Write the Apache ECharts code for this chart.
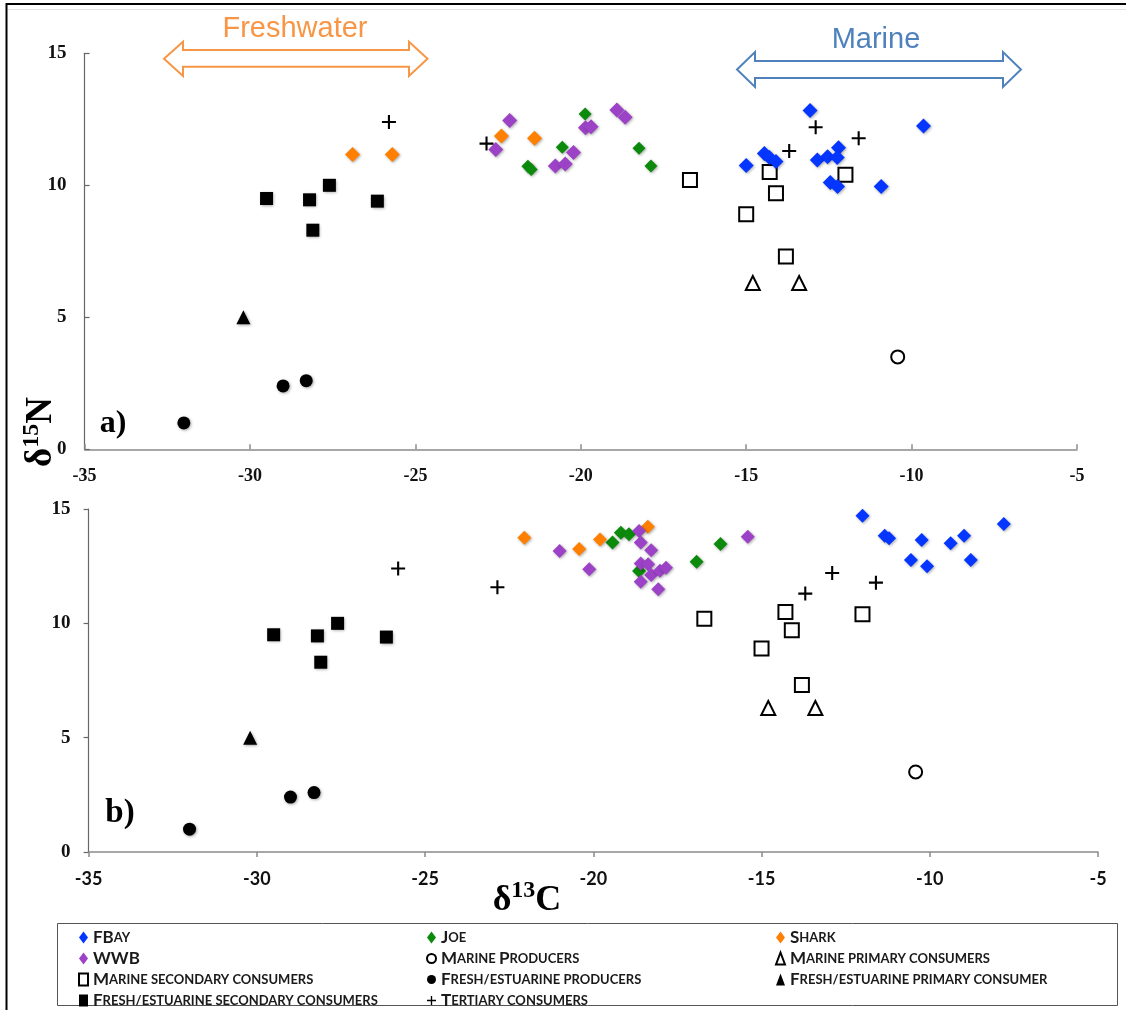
<!DOCTYPE html>
<html>
<head>
<meta charset="utf-8">
<script src="https://cdn.jsdelivr.net/npm/echarts@6/dist/echarts.min.js"></script>
<style>
html,body{margin:0;padding:0;background:#fff;}
#chart{width:1126px;height:1010px;}
</style>
</head>
<body>
<div id="chart"></div>
<script>
// ---------- data (δ13C, δ15N) ----------
// shared (same in both panels)
const freshProducers   = [[-32.0,1.0],[-29.0,2.4],[-28.3,2.6]];
const freshPrimary     = [[-30.2,5.0]];
const freshSecondary   = [[-29.5,9.5],[-28.2,9.45],[-27.6,10.0],[-28.1,8.3],[-26.15,9.4]];
const tertiary         = [[-25.8,12.4],[-22.85,11.58],[-13.7,11.3],[-12.9,12.2],[-11.6,11.78]];
const marineProducers  = [[-10.42,3.5]];
const marinePrimary    = [[-14.8,6.3],[-13.4,6.3]];
const marineSecondary  = [[-16.7,10.2],[-14.29,10.5],[-14.1,9.7],[-15.0,8.9],[-13.8,7.3],[-12.0,10.4]];

// panel a)
const fbayA  = [[-15.0,10.75],[-14.45,11.2],[-14.3,11.05],[-14.1,10.9],[-13.07,12.83],[-12.85,10.96],[-12.54,11.08],[-12.21,11.42],[-12.25,11.05],[-12.46,10.11],[-12.24,9.95],[-10.92,9.95],[-9.64,12.25]];
const joeA   = [[-21.6,10.72],[-21.5,10.6],[-20.56,11.44],[-19.87,12.7],[-18.24,11.4],[-17.88,10.73]];
const sharkA = [[-26.9,11.17],[-25.7,11.17],[-22.4,11.87],[-21.4,11.78]];
const wwbA   = [[-22.57,11.36],[-22.15,12.45],[-20.77,10.73],[-20.47,10.81],[-20.22,11.24],[-19.86,12.18],[-19.69,12.22],[-18.91,12.85],[-18.66,12.58]];

// panel b)
const fbayB  = [[-12.0,14.71],[-11.34,13.83],[-11.21,13.72],[-10.24,13.64],[-10.56,12.77],[-10.08,12.5],[-9.38,13.5],[-8.98,13.83],[-8.78,12.77],[-7.8,14.34]];
const joeB   = [[-19.43,13.54],[-19.18,13.96],[-18.94,13.9],[-18.64,12.29],[-16.93,12.69],[-16.22,13.47]];
const sharkB = [[-22.05,13.74],[-20.42,13.25],[-19.8,13.67],[-18.38,14.22]];
const wwbB   = [[-21.0,13.16],[-20.12,12.37],[-18.64,14.04],[-18.59,13.54],[-18.28,13.2],[-18.59,12.62],[-18.37,12.58],[-18.28,12.11],[-18.02,12.3],[-17.84,12.43],[-18.59,11.82],[-18.07,11.49],[-15.41,13.79]];

const xMin = -35, xMax = -5, xStep = 5;
const yMin = 0, yMax = 15, yStep = 5;

const legendCol1 = ['FBay','WWB','Marine secondary consumers','Fresh/estuarine secondary consumers'];
const legendCol2 = ['Joe','Marine Producers','Fresh/estuarine producers','Tertiary consumers'];
const legendCol3 = ['Shark','Marine primary consumers','Fresh/estuarine primary consumer'];

// ---------- styles ----------
const PLUS = 'path://M8.5,0h3v8.5h8.5v3h-8.5v8.5h-3v-8.5h-8.5v-3h8.5z';
const shadow = {shadowBlur:3, shadowOffsetX:1, shadowOffsetY:1, shadowColor:'rgba(0,0,0,0.35)'};
const filled = c => Object.assign({color:c, opacity:1}, shadow);
const open = {color:'#fff', borderColor:'#000', borderWidth:2, opacity:1};

const COLORS = {FBay:'#0536FF', Joe:'#0B8A0B', Shark:'#FF7F00', WWB:'#9C42C6'};

const series = [];
function add(name, data, idx, symbol, size, itemStyle, z){
  series.push({
    name, type:'scatter', xAxisIndex:idx, yAxisIndex:idx, data,
    symbol, symbolSize:size, itemStyle, z: z||2,
    emphasis:{disabled:true}
  });
}
[0,1].forEach(i=>{
  add('Fresh/estuarine producers', freshProducers, i, 'circle', 13, filled('#000'));
  add('Fresh/estuarine primary consumer', freshPrimary, i, 'triangle', 14, filled('#000'));
  add('Fresh/estuarine secondary consumers', freshSecondary, i, 'rect', 13, filled('#000'));
  add('Marine Producers', marineProducers, i, 'circle', 13, open);
  add('Marine primary consumers', marinePrimary, i, 'triangle', 14, open);
  add('Marine secondary consumers', marineSecondary, i, 'rect', 14, open);
});
add('Joe', joeA, 0, 'diamond', 13, filled(COLORS.Joe), 3);
add('Shark', sharkA, 0, 'diamond', 15, filled(COLORS.Shark), 3);
add('WWB', wwbA, 0, 'diamond', 15, filled(COLORS.WWB), 3);
add('FBay', fbayA, 0, 'diamond', 15, filled(COLORS.FBay), 3);
add('Joe', joeB, 1, 'diamond', 14, filled(COLORS.Joe), 3);
add('Shark', sharkB, 1, 'diamond', 14, filled(COLORS.Shark), 3);
add('WWB', wwbB, 1, 'diamond', 14, filled(COLORS.WWB), 3);
add('FBay', fbayB, 1, 'diamond', 14, filled(COLORS.FBay), 3);
[0,1].forEach(i=>{
  add('Tertiary consumers', tertiary, i, PLUS, 14, {color:'#000', opacity:1}, 4);
});

// ---------- axes ----------
function xAx(i, font, inside){
  return {
    gridIndex:i, type:'value', min:xMin, max:xMax, interval:xStep,
    axisLine:{show:true, onZero:false, lineStyle:{color:'#8a8a8a', width:1.5}},
    axisTick:{show:true, inside, length:5, lineStyle:{color:'#8a8a8a', width:1.5}},
    splitLine:{show:false},
    axisLabel:{margin:18, fontFamily:font, fontWeight:'bold', fontSize:18, color:'#111'}
  };
}
function yAx(i, inside){
  return {
    gridIndex:i, type:'value', min:yMin, max:yMax, interval:yStep,
    axisLine:{show:true, onZero:false, lineStyle:{color:'#666', width:1.2}},
    axisTick:{show:true, inside, length:5, lineStyle:{color:'#666', width:1.2}},
    splitLine:{show:false},
    axisLabel:{margin:18, fontFamily:'Liberation Serif', fontWeight:'bold', fontSize:19, color:'#111'}
  };
}

// ---------- legend ----------
function smallCaps(name){
  let out = '';
  const re = /([A-Z]+)|([^A-Z]+)/g; let m;
  while((m = re.exec(name))){
    if(m[1]) out += '{b|' + m[1] + '}';
    else out += '{s|' + m[2].toUpperCase() + '}';
  }
  return out;
}
const legendText = {
  color:'#1a1a1a',
  rich:{
    b:{fontFamily:'Lato', fontWeight:'bold', fontSize:17, lineHeight:16, color:'#1a1a1a'},
    s:{fontFamily:'Lato', fontWeight:'bold', fontSize:13, lineHeight:16, color:'#1a1a1a'}
  }
};
function legendItem(n){
  const isDiamond = ['FBay','Joe','Shark','WWB'].includes(n);
  return isDiamond ? {name:n, icon:'diamond'} : {name:n};
}
function lg(names, left){
  return {
    data:names.map(legendItem), orient:'vertical', left, top:929,
    itemGap:4, itemWidth:9, itemHeight:12, padding:0,
    selectedMode:false, formatter:smallCaps, textStyle:legendText
  };
}

// ---------- annotations ----------
function arrow(x1, x2, xh1, xh2, yTop, ySh1, ySh2, yBot, color){
  const yc = (yTop + yBot)/2;
  return {
    type:'polygon', z:10,
    shape:{points:[[x1,yc],[xh1,yTop],[xh1,ySh1],[xh2,ySh1],[xh2,yTop],[x2,yc],[xh2,yBot],[xh2,ySh2],[xh1,ySh2],[xh1,yBot]]},
    style:{fill:'#fff', stroke:color, lineWidth:2}
  };
}
const graphic = [
  // frame
  {type:'line', shape:{x1:6.5,y1:3,x2:6.5,y2:1010}, style:{stroke:'#000', lineWidth:2}},
  {type:'line', shape:{x1:6,y1:4,x2:1126,y2:4}, style:{stroke:'#000', lineWidth:2}},
  {type:'line', shape:{x1:8,y1:9.5,x2:1126,y2:9.5}, style:{stroke:'#e2e2e2', lineWidth:1}},
  // legend box
  {type:'rect', shape:{x:57.5,y:923.5,width:1060,height:82}, style:{fill:null, stroke:'#555', lineWidth:1}},
  // region arrows
  {type:'text', x:295, y:29, style:{text:'Freshwater', font:'29px "Liberation Sans"', fill:'#F79646', align:'center', verticalAlign:'middle'}},
  arrow(164, 427.5, 183, 409, 41.7, 50, 66.7, 76, '#F79646'),
  {type:'text', x:876, y:40, style:{text:'Marine', font:'29px "Liberation Sans"', fill:'#4F81BD', align:'center', verticalAlign:'middle'}},
  arrow(737, 1021, 755, 1003, 52, 61, 78, 87, '#4F81BD'),
  // panel letters
  {type:'text', x:113, y:424, style:{text:'a)', font:'bold 32px "Liberation Serif"', fill:'#000', align:'center', verticalAlign:'middle'}},
  {type:'text', x:120, y:813, style:{text:'b)', font:'bold 33px "Liberation Serif"', fill:'#000', align:'center', verticalAlign:'middle'}},
  // axis titles
  {type:'text', x:40, y:432, rotation:Math.PI/2,
    style:{text:'{d|δ}{s|15}{d|N}', align:'center', verticalAlign:'middle',
      rich:{d:{font:'bold 37px "Liberation Serif"', fill:'#000', lineHeight:40, verticalAlign:'bottom'},
            s:{font:'bold 24px "Liberation Serif"', fill:'#000', lineHeight:40, verticalAlign:'top'}}}},
  {type:'text', x:527, y:899,
    style:{text:'{d|δ}{s|13}{d|C}', align:'center', verticalAlign:'middle',
      rich:{d:{font:'bold 36px "Liberation Serif"', fill:'#000', lineHeight:40, verticalAlign:'bottom'},
            s:{font:'bold 24px "Liberation Serif"', fill:'#000', lineHeight:40, verticalAlign:'top'}}}}
];

const option = {
  animation:false,
  backgroundColor:'#fff',
  grid:[
    {left:84.6, top:53.3, width:992.4, height:396},
    {left:88.6, top:509, width:1009.4, height:343}
  ],
  xAxis:[xAx(0,'Liberation Serif',true), xAx(1,'Lato',false)],
  yAxis:[yAx(0,true), yAx(1,false)],
  legend:[lg(legendCol1,78), lg(legendCol2,426), lg(legendCol3,775)],
  graphic,
  series
};
const chart = echarts.init(document.getElementById('chart'));
chart.setOption(option);
</script>
</body>
</html>
